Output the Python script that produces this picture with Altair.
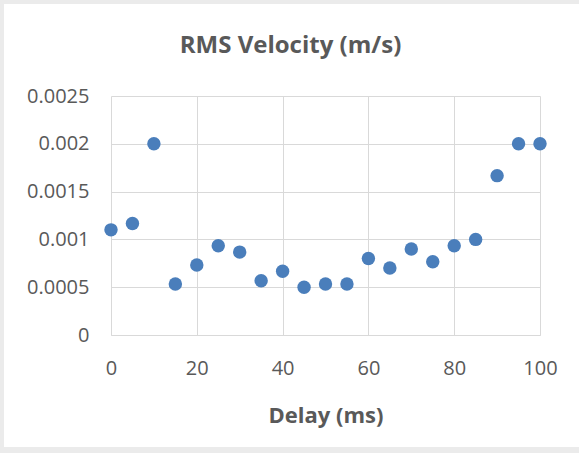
import altair as alt
import pandas as pd

delay_ms = [0, 5, 10, 15, 20, 25, 30, 35, 40, 45, 50, 55, 60, 65, 70, 75, 80, 85, 90, 95, 100]
rms_velocity = [0.0011, 0.001167, 0.002, 0.000533, 0.000733, 0.000933, 0.000867, 0.000567,
                0.000667, 0.0005, 0.000533, 0.000533, 0.0008, 0.0007, 0.0009, 0.000767,
                0.000933, 0.001, 0.001667, 0.002, 0.002]
x_ticks = [0, 20, 40, 60, 80, 100]
y_ticks = [0, 0.0005, 0.001, 0.0015, 0.002, 0.0025]

df = pd.DataFrame({"delay": delay_ms, "rms": rms_velocity})

FONT = "Open Sans"
TXT = "#595959"
GRID = "#d9d9d9"
FRAME = "#ebebeb"

one = pd.DataFrame({"a": [0]})
top_strip = alt.Chart(one).mark_rect(color=FRAME).encode(
    x=alt.value(-111), x2=alt.value(468), y=alt.value(-96), y2=alt.value(-92))
left_strip = alt.Chart(one).mark_rect(color=FRAME).encode(
    x=alt.value(-111), x2=alt.value(-107), y=alt.value(-96), y2=alt.value(357))
bottom_strip = alt.Chart(one).mark_rect(color=FRAME).encode(
    x=alt.value(-111), x2=alt.value(468), y=alt.value(351), y2=alt.value(357))

points = alt.Chart(df).mark_circle(size=180, color="#4a7ebb", opacity=1).encode(
    x=alt.X("delay:Q",
            scale=alt.Scale(domain=[0, 100], nice=False),
            axis=alt.Axis(values=x_ticks, title="Delay (ms)", grid=True, gridColor=GRID,
                          domainColor=GRID, ticks=False, labelFont=FONT, labelFontSize=20,
                          labelColor=TXT, labelPadding=23, labelFlush=False,
                          titleFont=FONT, titleFontSize=22,
                          titleFontWeight="bold", titleColor=TXT, titlePadding=27)),
    y=alt.Y("rms:Q",
            scale=alt.Scale(domain=[0, 0.0025], nice=False),
            axis=alt.Axis(values=y_ticks, title=None, grid=True, gridColor=GRID,
                          domain=False, ticks=False, labelFont=FONT, labelFontSize=20,
                          labelColor=TXT, labelPadding=22, labelFlush=False,
                          labelExpr="datum.value == 0 ? '0' : format(datum.value, '~g')")),
)

chart = alt.layer(top_strip, left_strip, bottom_strip, points).properties(
    width=429, height=239,
    background="white",
    padding={"left": 111, "top": 96, "right": 39, "bottom": 118},
    autosize=alt.AutoSizeParams(type="none"),
    title=alt.TitleParams("RMS Velocity (m/s)", font=FONT, fontSize=24, fontWeight="bold",
                          color=TXT, anchor="middle", frame="group", dx=-35, offset=-58),
).configure_view(stroke=None)

chart.save("out.html", embed_options={"renderer": "svg", "actions": False})
